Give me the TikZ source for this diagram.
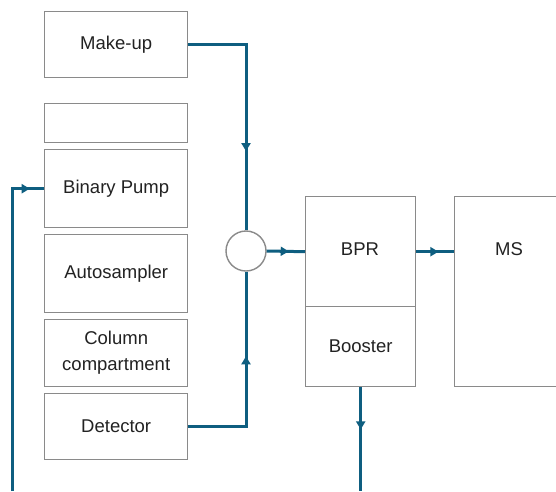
\documentclass[tikz,border=0pt]{standalone}
\usepackage{fontspec}
\setmainfont{Liberation Sans}
\usetikzlibrary{arrows.meta,decorations.markings}
\definecolor{flow}{HTML}{0E5E80}
\definecolor{edge}{HTML}{8A8A8A}
\definecolor{txt}{HTML}{222222}
\begin{document}
\begin{tikzpicture}[x=1pt,y=-1pt,
  box/.style={draw=edge,line width=1.4pt,fill=white,text=txt,
    font=\fontsize{18.5}{26}\selectfont,align=center,inner sep=0pt,anchor=north west},
  lbl/.style={text=txt,font=\fontsize{18.5}{26}\selectfont,inner sep=0pt},
  flowline/.style={draw=flow,color=flow,line width=3pt},
  midarrow/.style={postaction={decorate},decoration={markings,
    mark=at position #1 with {\arrow{Triangle[length=8pt,width=9pt]}}}}]
\clip (0,0) rectangle (556,491);
\fill[white] (0,0) rectangle (556,491);
% left stack
\node[box,minimum width=143pt,minimum height=66pt] (makeup) at (44,11) {Make-up};
\node[box,minimum width=143pt,minimum height=39pt] (blank) at (44,103) {};
\node[box,minimum width=143pt,minimum height=78pt] (pump) at (44,149) {Binary Pump};
\node[box,minimum width=143pt,minimum height=78pt] (auto) at (44,234) {Autosampler};
\node[box,minimum width=143pt,minimum height=67pt] (col) at (44,319) {Column\\compartment};
\node[box,minimum width=143pt,minimum height=66pt] (det) at (44,393) {Detector};
% mixing tee
\node[circle,draw=edge,line width=1.4pt,fill=white,minimum size=40pt,inner sep=0pt] (tee) at (246,251) {};
% BPR / Booster
\node[box,minimum width=110pt,minimum height=110pt] (bpr) at (305,196) {};
\node[box,minimum width=110pt,minimum height=80pt] (boost) at (305,306) {Booster};
\node[lbl] (bprlbl) at (360,249) {BPR};
% MS
\node[box,minimum width=160pt,minimum height=190pt] (ms) at (454,196) {};
\node[lbl] (mslbl) at (509,249) {MS};
% coordinates for free ends
\coordinate (feed) at (12,491);
\coordinate (bottom) at (0,491);
% connectors
\draw[flowline,midarrow=164pt] (makeup.east) -| (tee.north);
\draw[flowline,midarrow=128pt] (det.east) -| (tee.south);
\draw[flowline,midarrow=22pt] (tee.east) -- (bpr.west);
\draw[flowline,midarrow=22pt] (bpr.east) -- (bpr.east -| ms.west);
\draw[flowline,midarrow=42pt] (boost.south) -- (boost.south |- bottom);
\draw[flowline,midarrow=320pt] (feed) |- (pump.west);
\end{tikzpicture}
\end{document}
